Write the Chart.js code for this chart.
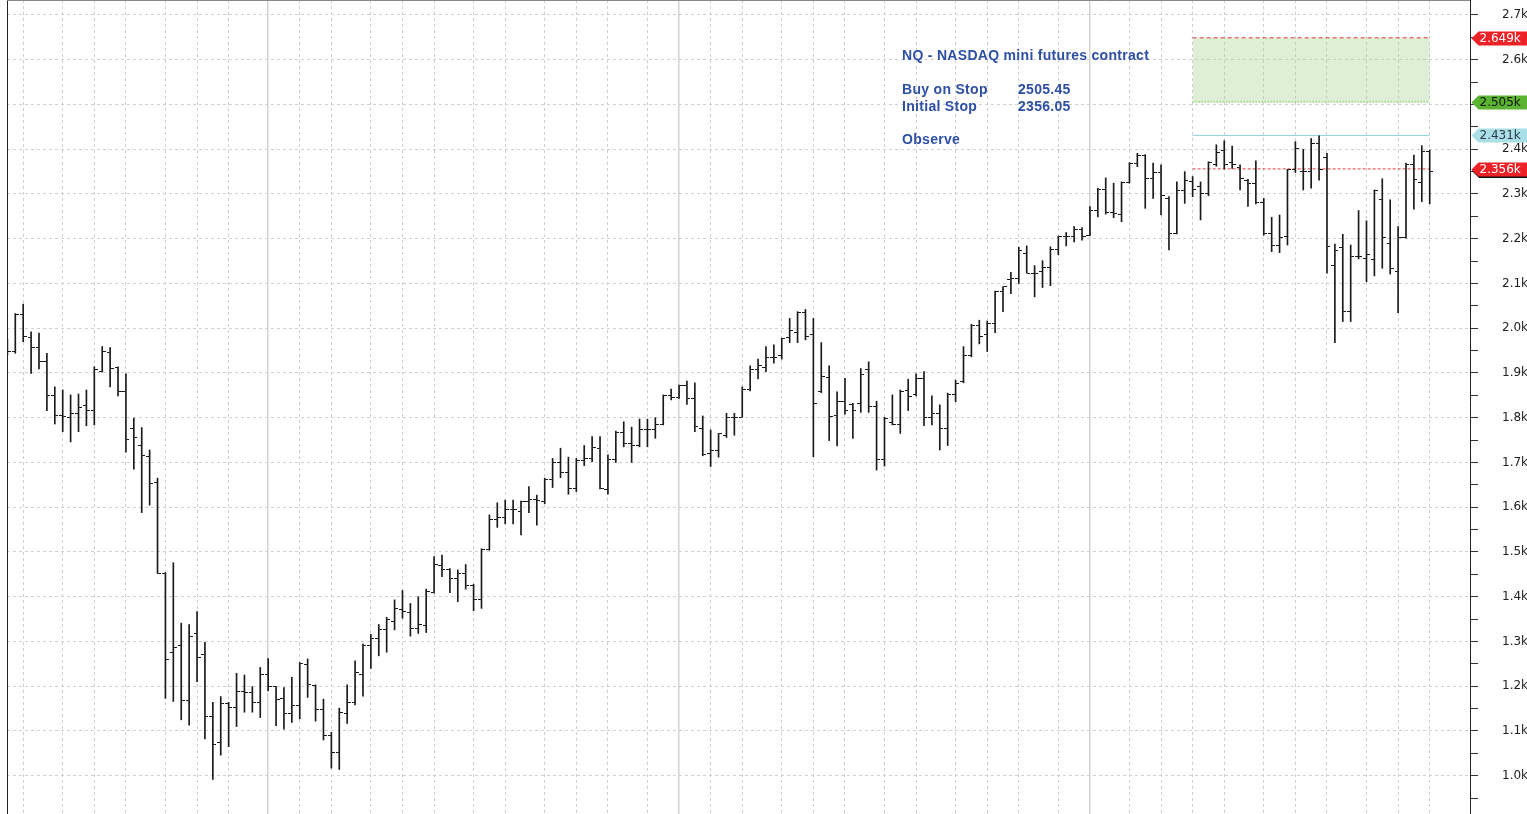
<!DOCTYPE html>
<html>
<head>
<meta charset="utf-8">
<script src="https://cdn.jsdelivr.net/npm/chart.js@4.4.0/dist/chart.umd.min.js"></script>
<style>
html, body { margin: 0; padding: 0; background: #fff; overflow: hidden; }
</style>
</head>
<body>
<canvas id="graph" width="1527" height="814"></canvas>
<script>
// weekly NQ bars, index 0 = week of 19 May 2008
var opens = [
  1962,1948,2030,1979,1957,1926,1850,1804,1800,1810,
  1828,1816,1903,1945,1913,1858,1776,1739,1713,1656,
  1452,1275,1290,1168,1318,1270,1133,1074,1162,1153,
  1188,1186,1163,1227,1199,1172,1140,1157,1248,1202,
  1149,1089,1052,1140,1163,1227,1292,1307,1326,1344,
  1372,1364,1329,1335,1410,1469,1461,1440,1453,1425,
  1394,1506,1573,1578,1596,1590,1612,1618,1612,1662,
  1699,1677,1641,1704,1709,1731,1639,1707,1768,1742,
  1739,1774,1773,1786,1849,1845,1873,1842,1776,1721,
  1726,1761,1800,1801,1864,1908,1912,1935,1938,1979,
  1990,2036,1987,1858,1891,1804,1836,1829,1831,1907,
  1825,1707,1789,1785,1860,1851,1888,1801,1810,1776,
  1853,1880,1938,2007,1986,2011,2082,2108,2112,2167,
  2123,2126,2136,2176,2204,2205,2220,2208,2262,2310,
  2258,2255,2326,2368,2385,2335,2348,2290,2212,2307,
  2327,2316,2300,2366,2398,2370,2359,2331,2324,2281,
  2212,2184,2205,2354,2350,2350,2413,2381,2140,2181,
  2037,2160,2156,2154,2288,2190,2126,2203,2366,2325,2396
];
var highs = [
  1975,2033,2054,1992,1989,1944,1869,1862,1851,1853,
  1862,1914,1959,1957,1914,1898,1799,1778,1728,1665,
  1454,1476,1341,1338,1367,1298,1164,1177,1164,1229,
  1225,1199,1242,1262,1200,1197,1220,1253,1261,1203,
  1171,1097,1151,1203,1257,1294,1316,1338,1354,1393,
  1414,1385,1400,1417,1490,1493,1463,1460,1472,1428,
  1507,1583,1610,1616,1616,1614,1646,1627,1665,1709,
  1732,1712,1709,1738,1758,1758,1717,1770,1791,1779,
  1797,1797,1800,1851,1864,1873,1882,1878,1804,1773,
  1765,1810,1810,1869,1916,1931,1959,1963,1978,2022,
  2037,2042,2022,1968,1916,1858,1888,1832,1910,1925,
  1837,1801,1851,1862,1886,1898,1903,1849,1829,1855,
  1884,1959,2009,2018,2016,2083,2093,2125,2181,2184,
  2140,2151,2182,2206,2214,2227,2225,2272,2313,2336,
  2324,2327,2370,2391,2388,2369,2365,2294,2327,2350,
  2339,2327,2372,2410,2419,2407,2365,2333,2374,2290,
  2248,2253,2355,2417,2400,2424,2430,2391,2188,2210,
  2186,2263,2240,2309,2334,2287,2227,2369,2387,2408,2398
];
var lows = [
  1940,1944,1970,1899,1909,1816,1786,1769,1746,1769,
  1782,1784,1902,1869,1849,1723,1685,1588,1605,1452,
  1173,1166,1125,1113,1210,1082,992,1046,1065,1110,
  1142,1142,1130,1190,1112,1104,1119,1127,1175,1122,
  1080,1017,1014,1117,1158,1178,1240,1268,1276,1326,
  1352,1312,1318,1320,1408,1445,1409,1389,1417,1369,
  1374,1504,1555,1563,1563,1538,1588,1560,1608,1644,
  1666,1629,1635,1693,1702,1641,1629,1700,1735,1700,
  1735,1735,1754,1784,1840,1843,1830,1769,1715,1691,
  1712,1756,1761,1801,1860,1887,1903,1922,1931,1968,
  1968,1974,1713,1856,1749,1737,1808,1754,1812,1812,
  1683,1692,1784,1765,1816,1849,1782,1784,1728,1738,
  1836,1878,1936,1965,1948,1990,2037,2077,2100,2123,
  2070,2091,2095,2164,2184,2193,2197,2207,2249,2255,
  2247,2238,2324,2361,2268,2290,2253,2175,2211,2279,
  2294,2242,2296,2362,2356,2357,2309,2272,2278,2208,
  2171,2169,2186,2348,2309,2313,2331,2123,1968,2015,
  2015,2155,2104,2117,2134,2121,2035,2201,2266,2283,2278
];
var closes = [
  1948,2030,1981,1957,1925,1849,1805,1802,1810,1822,
  1816,1907,1948,1910,1858,1752,1756,1715,1652,1452,
  1259,1287,1169,1312,1265,1132,1069,1162,1153,1188,
  1186,1163,1227,1199,1171,1140,1157,1250,1204,1147,
  1091,1052,1141,1163,1231,1292,1307,1327,1350,1374,
  1367,1330,1338,1411,1471,1461,1440,1452,1425,1393,
  1506,1573,1578,1596,1594,1612,1618,1614,1662,1700,
  1677,1641,1705,1708,1733,1642,1707,1768,1743,1739,
  1774,1773,1786,1849,1845,1872,1842,1780,1717,1726,
  1765,1800,1800,1864,1908,1916,1935,1935,1976,1994,
  2036,1981,1832,1892,1802,1836,1817,1816,1896,1825,
  1707,1799,1785,1858,1847,1888,1801,1810,1776,1853,
  1877,1938,2007,1981,2011,2082,2093,2112,2173,2123,
  2123,2136,2176,2205,2204,2220,2205,2262,2310,2258,
  2257,2326,2369,2385,2335,2348,2296,2212,2307,2330,
  2310,2300,2370,2393,2367,2365,2335,2324,2281,2212,
  2184,2203,2355,2402,2350,2412,2354,2182,2173,2037,
  2160,2160,2164,2307,2202,2134,2203,2366,2333,2396,2350
];

// first bar of each month, and of each year
var monthStarts = [2, 7, 11, 15, 20, 24, 28, 33, 37, 41, 46, 50, 54, 59, 63, 68, 72, 76, 81,
  85, 89, 93, 98, 102, 106, 111, 115, 120, 124, 128, 133, 137, 142, 146, 150, 154, 159,
  163, 167, 172, 176, 180];
var yearStarts = [33, 85, 137];

// trade setup
var setupFrom = 150, setupTo = 180;
var targetLevel = 2649;
var buyStop = 2505.45;
var recentHigh = 2431;
var initialStop = 2356.05;

var priceTicks = [];
for (var t = 950; t <= 2700; t += 50) priceTicks.push(t);

function tickImage(side) {
  var c = document.createElement('canvas');
  c.width = 7; c.height = 1;
  var g = c.getContext('2d');
  g.fillStyle = '#1a1a1a';
  g.fillRect(side === 'left' ? 0 : 4, 0, 3, 1);
  return c;
}

function levelLine(v) {
  return [{x: setupFrom, y: v}, {x: setupTo, y: v}];
}

var rangeData = highs.map(function(h, i) { return {x: i, y: [lows[i], h]}; });
var openData = opens.map(function(o, i) { return {x: i, y: o}; });
var closeData = closes.map(function(c, i) { return {x: i, y: c}; });

var notes = {
  id: 'notes',
  afterDatasetsDraw: function(chart) {
    var ctx = chart.ctx, a = chart.chartArea;
    ctx.save();
    // plot frame
    ctx.strokeStyle = '#222';
    ctx.lineWidth = 1;
    ctx.beginPath();
    ctx.moveTo(a.left + 0.5, a.top);
    ctx.lineTo(a.left + 0.5, a.bottom);
    ctx.stroke();
    ctx.strokeStyle = '#888';
    ctx.beginPath();
    ctx.moveTo(a.left, a.top + 0.5);
    ctx.lineTo(a.right, a.top + 0.5);
    ctx.stroke();

    ctx.fillStyle = '#2d4fa5';
    ctx.font = 'bold 14px "Liberation Sans"';
    ctx.letterSpacing = '0.3px';
    ctx.textBaseline = 'alphabetic';
    var x0 = a.left + 895, x1 = a.left + 1011;
    ctx.fillText('NQ - NASDAQ mini futures contract', x0, 60);
    ctx.fillText('Buy on Stop', x0, 94);
    ctx.fillText(buyStop.toFixed(2), x1, 94);
    ctx.fillText('Initial Stop', x0, 111);
    ctx.fillText(initialStop.toFixed(2), x1, 111);
    ctx.fillText('Observe', x0, 144);
    ctx.restore();
  },
  afterDraw: function(chart) {
    var ctx = chart.ctx, ys = chart.scales.y, a = chart.chartArea;
    var tags = [
      {v: targetLevel, bg: '#ec2227', fg: '#fff'},
      {v: buyStop, bg: '#5bb431', fg: '#111'},
      {v: recentHigh, bg: '#aadfe8', fg: '#2a3a4a'},
      {v: initialStop, bg: '#ec2227', fg: '#fff', shadow: true}
    ];
    ctx.save();
    tags.forEach(function(tg) {
      var y = Math.round(ys.getPixelForValue(tg.v)) + 0.5;
      var xl = a.right + 1.5, xr = chart.width;
      function shape(dx, dy) {
        ctx.beginPath();
        ctx.moveTo(xl + dx, y + dy);
        ctx.lineTo(xl + 7 + dx, y - 7 + dy);
        ctx.lineTo(xr + dx, y - 7 + dy);
        ctx.lineTo(xr + dx, y + 7 + dy);
        ctx.lineTo(xl + 7 + dx, y + 7 + dy);
        ctx.closePath();
      }
      if (tg.shadow) {
        ctx.fillStyle = '#111';
        shape(0.5, 1.5);
        ctx.fill();
      }
      ctx.fillStyle = tg.bg;
      shape(0, 0);
      ctx.fill();
      ctx.fillStyle = tg.fg;
      ctx.font = '12px "DejaVu Sans"';
      ctx.textBaseline = 'middle';
      ctx.fillText((tg.v / 1000).toFixed(3) + 'k', xl + 8, y + 0.5);
    });
    ctx.restore();
  }
};

var chart = new Chart(document.getElementById('graph').getContext('2d'), {
  type: 'bar',
  data: {
    datasets: [
      {
        type: 'line', data: openData, showLine: false,
        pointStyle: tickImage('left'), pointRadius: 3, pointHoverRadius: 3
      },
      {
        type: 'line', data: closeData, showLine: false,
        pointStyle: tickImage('right'), pointRadius: 3, pointHoverRadius: 3
      },
      {
        type: 'bar', data: rangeData, backgroundColor: '#1a1a1a',
        borderWidth: 0, barThickness: 1, grouped: false
      },
      {
        type: 'line', data: levelLine(targetLevel), borderColor: '#e0383d',
        borderWidth: 1, borderDash: [4, 3], pointRadius: 0,
        fill: '+1', backgroundColor: 'rgba(150, 200, 120, 0.3)'
      },
      {
        type: 'line', data: levelLine(buyStop), borderColor: '#5cc032',
        borderWidth: 1.5, borderDash: [1, 2], pointRadius: 0, fill: false
      },
      {
        type: 'line', data: levelLine(recentHigh), borderColor: '#8ccfdc',
        borderWidth: 1, pointRadius: 0, fill: false
      },
      {
        type: 'line', data: levelLine(initialStop), borderColor: '#e23b3b',
        borderWidth: 1, borderDash: [3, 2], pointRadius: 0, fill: false
      }
    ]
  },
  options: {
    responsive: false,
    animation: false,
    devicePixelRatio: 1,
    layout: { autoPadding: false, padding: { left: 7, top: 0, right: 0, bottom: 0 } },
    plugins: { legend: { display: false }, tooltip: { enabled: false } },
    events: [],
    scales: {
      x: {
        type: 'linear', min: -0.05, max: 185.1, offset: false,
        afterBuildTicks: function(s) { s.ticks = monthStarts.map(function(v) { return {value: v}; }); },
        afterFit: function(s) { s.height = 0; s.paddingLeft = 0; s.paddingRight = 0; },
        ticks: { display: false },
        grid: {
          offset: false, drawTicks: false,
          color: function(c) { return yearStarts.indexOf(c.tick && c.tick.value) >= 0 ? '#d2d2d2' : '#d0d0d0'; },
          lineWidth: function(c) { return yearStarts.indexOf(c.tick && c.tick.value) >= 0 ? 1.5 : 1; }
        },
        border: {
          display: false,
          dash: function(c) { return yearStarts.indexOf(c.tick && c.tick.value) >= 0 ? [] : [3, 3]; }
        }
      },
      y: {
        type: 'linear', position: 'right', min: 914.5, max: 2733.5,
        afterBuildTicks: function(s) { s.ticks = priceTicks.map(function(v) { return {value: v}; }); },
        afterFit: function(s) { s.width = 57; s.paddingTop = 0; s.paddingBottom = 0; },
        ticks: {
          autoSkip: false, padding: 24, color: '#222',
          font: { family: 'DejaVu Sans', size: 12 },
          callback: function(v) { return v % 100 === 0 ? (v / 1000).toFixed(1) + 'k' : ''; }
        },
        grid: {
          tickLength: 8, tickColor: '#333',
          color: function(c) { return c.tick && c.tick.value % 100 === 0 ? '#d0d0d0' : 'rgba(0,0,0,0)'; }
        },
        border: { color: '#222', width: 1, dash: [3, 3] }
      }
    }
  },
  plugins: [notes]
});
</script>
</body>
</html>
